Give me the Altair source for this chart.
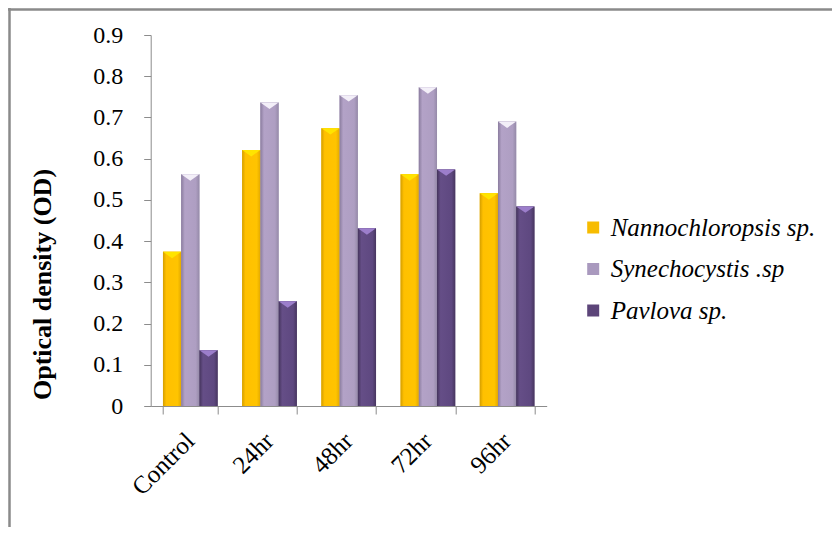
import altair as alt
import pandas as pd

categories = ["Control", "24hr", "48hr", "72hr", "96hr"]
series = ["Nannochloropsis sp.", "Synechocystis .sp", "Pavlova sp."]
nanno = [0.374, 0.621, 0.674, 0.562, 0.516]
synech = [0.562, 0.736, 0.754, 0.773, 0.690]
pavlova = [0.135, 0.254, 0.431, 0.574, 0.484]
y_ticks = [0.0, 0.1, 0.2, 0.3, 0.4, 0.5, 0.6, 0.7, 0.8, 0.9]

SERIF = "'Liberation Serif', 'Times New Roman', serif"

flat_colors = ["#F7BC00", "#A999BE", "#5C4579"]
gradients = [
    [("#D49E00", 0.0), ("#FFC000", 0.18), ("#FFC400", 0.8), ("#E3A900", 1.0)],
    [("#8A7C9E", 0.0), ("#B3A2C7", 0.2), ("#AE9EC2", 0.8), ("#958AA8", 1.0)],
    [("#44345C", 0.0), ("#654E87", 0.2), ("#5E4880", 0.8), ("#47365F", 1.0)],
]
cap_colors = ["#FFE400", "#F3EFF8", "#9C7ECB"]

rows = []
for s, vals in zip(series, [nanno, synech, pavlova]):
    for c, v in zip(categories, vals):
        rows.append({"time": c, "species": s, "od": v})
df = pd.DataFrame(rows)

W, H = 396, 371
PL, PT = 142.7, 27
TOTAL_W, TOTAL_H = 824, 519

x_enc = alt.X(
    "time:N",
    sort=categories,
    scale=alt.Scale(paddingInner=0.31, paddingOuter=0.155),
    axis=alt.Axis(
        title=None,
        labelAngle=-45,
        labelFontSize=25,
        tickBand="extent",
        tickSize=8,
        labelPadding=14,
        labelOffset=-9,
        grid=False,
    ),
)
xo_enc = alt.XOffset("species:N", sort=series, scale=alt.Scale(paddingInner=0, paddingOuter=0))
y_enc = alt.Y(
    "od:Q",
    scale=alt.Scale(domain=[0, 0.9], nice=False),
    axis=alt.Axis(
        title="Optical density (OD)",
        values=y_ticks,
        format=".1~f",
        grid=False,
        tickSize=7,
        labelPadding=21,
        labelFontSize=24,
        titleFontSize=26,
        titleFontWeight="bold",
        titleAngle=270,
        titleX=-108.5,
        titleY=249,
        titleAlign="center",
        titleBaseline="middle",
    ),
)

base = alt.Chart(df).mark_bar().encode(
    x=x_enc,
    xOffset=xo_enc,
    y=y_enc,
    color=alt.Color(
        "species:N",
        sort=series,
        scale=alt.Scale(domain=series, range=flat_colors),
        legend=alt.Legend(
            title=None,
            orient="none",
            legendX=430,
            legendY=180,
            symbolType="square",
            symbolSize=144,
            symbolStrokeWidth=0,
            labelFont=SERIF,
            labelFontStyle="italic",
            labelFontSize=25,
            labelColor="black",
            labelOffset=5,
            labelLimit=0,
            rowPadding=15.5,
            padding=0,
        ),
    ),
)

layers = [base]
for s, grad, cap in zip(series, gradients, cap_colors):
    g = alt.Gradient(
        gradient="linear",
        stops=[alt.GradientStop(color=c, offset=o) for c, o in grad],
        x1=0, x2=1, y1=0, y2=0,
    )
    bar = alt.Chart(df).transform_filter(alt.datum.species == s).mark_bar(color=g).encode(
        x=x_enc, xOffset=xo_enc, y=y_enc
    )
    tip = alt.Chart(df).transform_filter(alt.datum.species == s).mark_point(
        shape="M-1,0L1,0L0,0.7Z", filled=True, size=331, color=cap, opacity=1, strokeWidth=0
    ).encode(x=x_enc, xOffset=xo_enc, y=y_enc)
    layers += [bar, tip]

frame_data = alt.Data(values=[{"k": 1}])
left_line = alt.Chart(frame_data).mark_rule(color="#8A8A8A", strokeWidth=2.5, clip=False).encode(
    x=alt.value(-PL + 1.5), y=alt.value(-PT), y2=alt.value(TOTAL_H)
)
top_line = alt.Chart(frame_data).mark_rule(color="#8A8A8A", strokeWidth=2.5, clip=False).encode(
    x=alt.value(-PL), x2=alt.value(TOTAL_W), y=alt.value(-PT + 1.5)
)
layers += [left_line, top_line]

chart = alt.layer(*layers).properties(
    width=W,
    height=H,
    padding={"left": PL, "top": PT, "right": TOTAL_W - PL - W, "bottom": TOTAL_H - PT - H},
    autosize=alt.AutoSizeParams(type="none"),
).configure_view(stroke=None).configure_axis(
    domainColor="#8C8C8C",
    tickColor="#8C8C8C",
    labelFont=SERIF,
    labelColor="black",
    titleFont=SERIF,
    titleColor="black",
).configure_legend(
    labelFont=SERIF,
)

chart.save("out.html", embed_options={"renderer": "svg", "actions": False})
